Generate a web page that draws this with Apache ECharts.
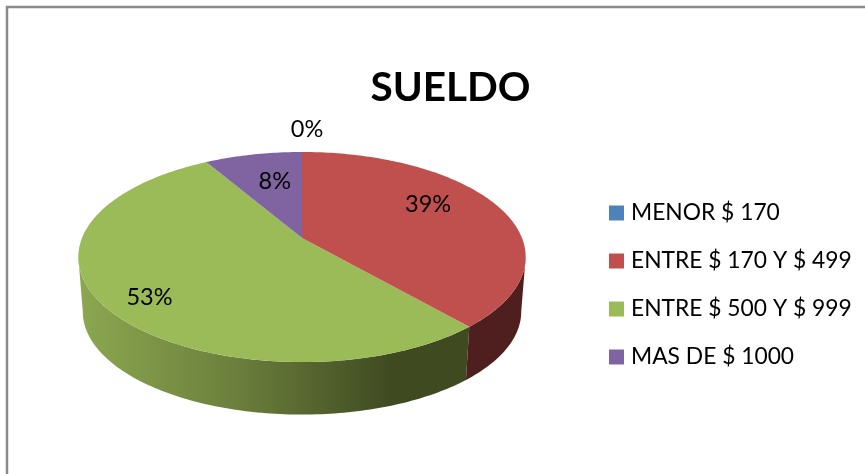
<!DOCTYPE html>
<html>
<head>
<meta charset="utf-8">
<style>html,body{margin:0;padding:0;background:#fff}#c{width:865px;height:474px}</style>
<script src="https://cdn.jsdelivr.net/npm/echarts@6/dist/echarts.min.js"></script>
</head>
<body>
<div id="c"></div>
<script>
const titleText = 'SUELDO';
const categories = ['MENOR $ 170', 'ENTRE $ 170 Y $ 499', 'ENTRE $ 500 Y $ 999', 'MAS DE $ 1000'];
const values = [0, 38.6, 53, 8.4];
const colors = ['#4f81bd', '#c0504d', '#9bbb59', '#8064a2'];

const FONT = 'Lato, "Open Sans", sans-serif';
const total = values.reduce((a, b) => a + b, 0);
const CX = 302, CY = 238, RX = 220, RY = 101.6, K = 0.181;
const DEPTH = 55, BOTTOM_SCALE = 0.98;
const VIS_FROM = 100.4, VIS_TO = 259.6;
const labelOffsets = [[5, -15], [7, -13], [-38, 22], [4, -3]];
const wallFill = [
  null,
  '#4f1f1f',
  { type: 'linear', x: 80, y: 0, x2: 470, y2: 0, global: true, colorStops: [
    { offset: 0, color: '#8ba750' }, { offset: 0.4, color: '#6c7f3c' },
    { offset: 0.8, color: '#3f4a21' }, { offset: 1, color: '#3f4a21' } ] },
  null
];

function proj(deg, r, bottom) {
  const t = deg * Math.PI / 180, x = r * Math.sin(t), y = r * Math.cos(t), d = 1 + K * y;
  const s = bottom ? BOTTOM_SCALE : 1;
  return [CX + s * RX * x / d, CY + (bottom ? DEPTH : 0) - s * RY * y / d];
}
function arc(a, b, bottom) {
  const pts = [], n = Math.max(1, Math.ceil(Math.abs(b - a)));
  for (let i = 0; i <= n; i++) pts.push(proj(a + (b - a) * i / n, 1, bottom));
  return pts;
}
function startAngle(idx) {
  let s = 0;
  for (let i = 0; i < idx; i++) s += values[i];
  return s / total * 360;
}
function renderer(idx) {
  return function (params, api) {
    const v = api.value(0), a = startAngle(idx), b = a + v / total * 360;
    const children = [];
    const wa = Math.max(a, VIS_FROM), wb = Math.min(b, VIS_TO);
    if (wb > wa && wallFill[idx]) {
      children.push({ type: 'polygon', shape: { points: arc(wa, wb, false).concat(arc(wa, wb, true).reverse()) },
        style: { fill: wallFill[idx] } });
    }
    if (v > 0) {
      children.push({ type: 'polygon', shape: { points: [[CX, CY]].concat(arc(a, b, false)) },
        style: { fill: colors[idx] } });
    }
    const mid = (a + b) / 2, p = proj(mid, v > 0 ? 0.6 : 1.1, false), o = labelOffsets[idx];
    children.push({ type: 'text', z2: 100, style: { x: p[0] + o[0], y: p[1] + o[1],
      text: Math.round(v / total * 100) + '%', fill: '#000', font: '23.5px ' + FONT, align: 'center', verticalAlign: 'middle' } });
    return { type: 'group', children };
  };
}

const chart = echarts.init(document.getElementById('c'), null, { renderer: 'canvas' });
chart.setOption({
  animation: false,
  backgroundColor: '#fff',
  title: { text: titleText, left: 445.5, top: 62, textAlign: 'center',
    textStyle: { fontFamily: FONT, fontSize: 40.5, fontWeight: 'bold', color: '#000' } },
  legend: { orient: 'vertical', left: 604, top: 195, itemWidth: 15, itemHeight: 15, itemGap: 22, icon: 'rect',
    selectedMode: false, data: categories,
    textStyle: { fontFamily: FONT, fontSize: 22.8, color: '#000', lineHeight: 26, padding: [0, 0, 0, 2] } },
  graphic: [{ type: 'rect', silent: true, z: -1, shape: { x: 7, y: 7, width: 900, height: 500 },
    style: { fill: '#fff', stroke: '#8a8a8a', lineWidth: 2.5 } }],
  series: categories.map((name, i) => ({
    type: 'custom', name, coordinateSystem: 'none', silent: true,
    itemStyle: { color: colors[i] }, data: [[values[i]]], renderItem: renderer(i),
    encode: { value: 0 }, z: 2 + [0, 1, 0, 0][i]
  }))
});
</script>
</body>
</html>
